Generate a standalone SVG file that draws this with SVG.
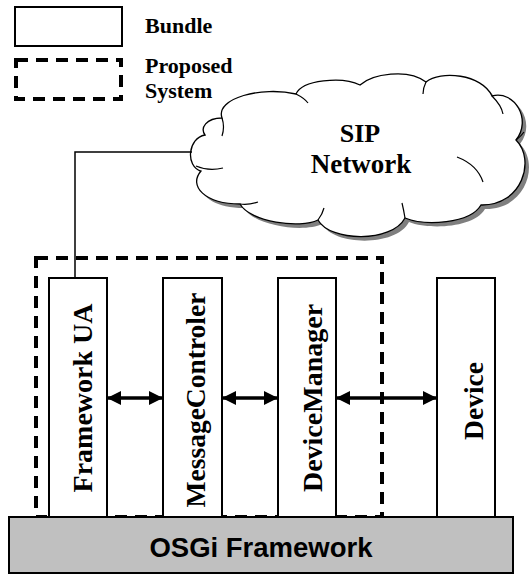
<svg xmlns="http://www.w3.org/2000/svg" width="530" height="574" viewBox="0 0 530 574">
<defs>
<style>
.serif{font-family:"Liberation Serif","Times New Roman",serif;font-weight:bold;fill:#000}
.sans{font-family:"Liberation Sans",Arial,sans-serif;font-weight:bold;fill:#000}
.box{fill:#fff;stroke:#000;stroke-width:2}
.dash{fill:none;stroke:#000;stroke-width:4;stroke-dasharray:12 8}
.conn{fill:none;stroke:#000;stroke-width:1.5}
.arrow{fill:none;stroke:#000;stroke-width:3.5;marker-start:url(#ah);marker-end:url(#ah)}
.crease{fill:none;stroke:#000;stroke-width:1.2}
</style>
<marker id="ah" markerUnits="userSpaceOnUse" markerWidth="14" markerHeight="14" refX="13" refY="7" orient="auto-start-reverse" viewBox="0 0 14 14">
<path d="M0,0 L14,7 L0,14 z" fill="#000"/>
</marker>
<path id="cloudShape" d="M205,135 C188,138 185,166 201,171 C188,186 205,204 240,204 C250,222 300,229 318,220 C330,242 392,243 405,218 C425,226 470,224 481,205 C522,206 536,160 516,140 C532,120 515,90 492,96 C482,74 440,70 426,82 C408,68 372,74 360,85 C342,76 302,80 296,94 C262,86 215,98 222,118 C206,118 200,128 205,135 Z"/>
</defs>

<g id="legend">
<rect x="15" y="7" width="107" height="39" fill="#fff" stroke="#000" stroke-width="2"/>
<text class="serif" x="145" y="33" font-size="22">Bundle</text>
<rect class="dash" x="16" y="60" width="105" height="39"/>
<text class="serif" x="145" y="73" font-size="22">Proposed</text>
<text class="serif" x="145" y="98" font-size="22">System</text>
</g>

<g id="proposed-system">
<rect class="dash" x="36" y="258" width="346" height="259"/>
</g>

<g id="sip-network">
<use href="#cloudShape" transform="translate(4,4)" fill="#7f7f7f"/>
<use href="#cloudShape" fill="#fff" stroke="#000" stroke-width="1.3"/>
<path class="crease" d="M196,166 C205,170 215,170 223,168"/>
<path class="crease" d="M222,118 C224,124 224,130 222,136"/>
<path class="crease" d="M296,94 C300,96 305,99 308,103"/>
<path class="crease" d="M426,82 C424,86 423,90 423,94"/>
<path class="crease" d="M492,96 C498,102 502,108 503,114"/>
<path class="crease" d="M516,140 C520,137 522,135 524,132"/>
<path class="crease" d="M457,157 C470,162 479,170 483,182"/>
<path class="crease" d="M405,218 C404,212 403,207 402,203"/>
<path class="crease" d="M318,220 C321,216 323,212 324,208"/>
<path class="crease" d="M240,204 C246,205 252,204 258,202"/>
<text class="serif" x="360" y="142" font-size="26" text-anchor="middle">SIP</text>
<text class="serif" x="361" y="173" font-size="27" text-anchor="middle">Network</text>
</g>

<g id="framework-ua">
<rect class="box" x="49" y="278" width="58" height="239"/>
<text class="serif" font-size="28" text-anchor="middle" transform="translate(92,398) rotate(-90)">Framework UA</text>
</g>

<g id="message-controler">
<rect class="box" x="163" y="278" width="59" height="239"/>
<text class="serif" font-size="27.5" text-anchor="middle" transform="translate(205,400) rotate(-90)">MessageControler</text>
</g>

<g id="device-manager">
<rect class="box" x="278" y="278" width="58" height="239"/>
<text class="serif" font-size="28" text-anchor="middle" transform="translate(322,398) rotate(-90)">DeviceManager</text>
</g>

<g id="device">
<rect class="box" x="437" y="278" width="58" height="239"/>
<text class="serif" font-size="27.5" text-anchor="middle" transform="translate(483,401) rotate(-90)">Device</text>
</g>

<g id="osgi-framework">
<rect x="9" y="517" width="504" height="56" fill="#c0c0c0" stroke="#000" stroke-width="2"/>
<text class="sans" x="261" y="557" font-size="27.5" text-anchor="middle">OSGi Framework</text>
</g>

<g id="connectors">
<path class="conn" d="M192,152 L75,152 L75,278"/>
<line class="arrow" x1="108" y1="398" x2="162" y2="398"/>
<line class="arrow" x1="223" y1="398" x2="277" y2="398"/>
<line class="arrow" x1="337" y1="398" x2="436" y2="398"/>
</g>
</svg>
